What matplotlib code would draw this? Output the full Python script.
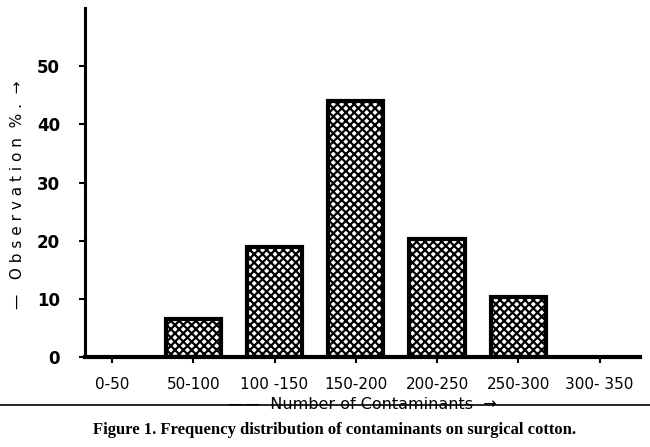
import matplotlib.pyplot as plt
import matplotlib as mpl

# data
ranges = ["0-50", "50-100", "100 -150", "150-200", "200-250", "250-300", "300- 350"]
observation = [0, 6.5, 19, 44, 20.3, 10.3, 0]
y_ticks = [0, 10, 20, 30, 40, 50]

mpl.rcParams['hatch.linewidth'] = 1.6

fig = plt.figure(figsize=(6.5, 4.47), dpi=100)
ax = fig.add_axes([0.131, 0.201, 0.854, 0.781])

xs = list(range(len(ranges)))
for x, v in zip(xs, observation):
    if v > 0:
        ax.bar(x, v, width=0.68, facecolor='white', edgecolor='black',
               hatch='xxxx', linewidth=3, zorder=2)

ax.set_xlim(-0.33, 6.5)
ax.set_ylim(0, 60)

ax.spines['top'].set_visible(False)
ax.spines['right'].set_visible(False)
ax.spines['left'].set_linewidth(2.2)
ax.spines['bottom'].set_linewidth(3)

ax.set_yticks(y_ticks)
ax.set_yticklabels([str(t) for t in y_ticks], fontsize=12, fontweight='bold')
ax.tick_params(axis='y', direction='out', length=4, width=1.5, pad=14)

ax.set_xticks(xs)
ax.set_xticklabels(ranges, fontsize=11)
ax.tick_params(axis='x', direction='out', length=4, width=1.5, pad=10)

ax.set_ylabel("—   O b s e r v a t i o n  % .  →", fontsize=11, labelpad=9, y=0.465)
ax.set_xlabel("——  Number of Contaminants  →", fontsize=11.5, labelpad=4)

# caption with rule above it
fig.add_artist(plt.Line2D([0.0, 1.0], [0.095, 0.095], color='black', linewidth=1.2))
fig.text(0.515, 0.038, "Figure 1. Frequency distribution of contaminants on surgical cotton.",
         ha='center', va='center', fontsize=12, fontweight='bold',
         family='Liberation Serif')

fig.savefig("out.png", dpi=100)
